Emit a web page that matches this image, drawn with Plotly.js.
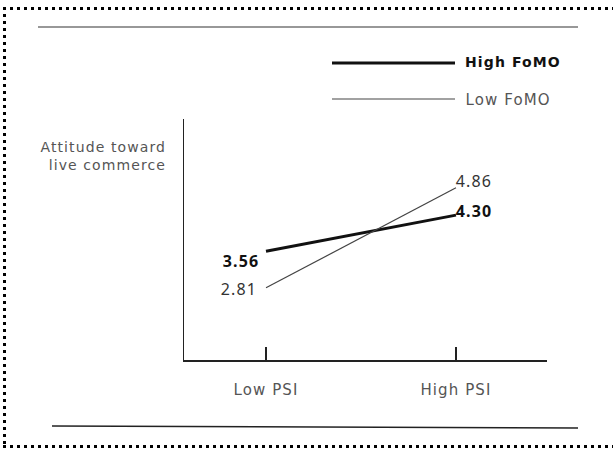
<!DOCTYPE html>
<html>
<head>
<meta charset="utf-8">
<script src="https://cdn.plot.ly/plotly-3.0.1.min.js"></script>
<style>
html,body{margin:0;padding:0;background:#fff;overflow:hidden;}
#wrap{position:relative;width:613px;height:450px;overflow:hidden;}
#chart{width:613px;height:450px;}
#chart .xtick text, #chart .annotation-text{letter-spacing:1.1px;}
.edge{position:absolute;pointer-events:none;z-index:5;}
.h{height:3px;left:3px;width:620px;background:repeating-linear-gradient(to right,#000 0 3px,transparent 3px 7px);}
.v{width:3px;left:3px;top:7px;height:441px;background:repeating-linear-gradient(to bottom,#000 0 3px,transparent 3px 7px);}
</style>
</head>
<body>
<div id="wrap">
<div id="chart"></div>
<div class="edge h" style="top:7px"></div>
<div class="edge h" style="top:445px"></div>
<div class="edge v"></div>
</div>
<script>
const categories = ['Low PSI', 'High PSI'];
const seriesNames = ['High FoMO', 'Low FoMO'];
const highFoMO = [3.56, 4.30];
const lowFoMO = [2.81, 4.86];
const yAxisTitle = 'Attitude toward<br>live commerce';

const W = 613, H = 450;
const L = 184, R = 66, T = 119, B = 90;
const pw = W - L - R, ph = H - T - B;
const px = v => (v - L) / pw;
const py = v => (H - B - v) / ph;

const labelFont = 'DejaVu Sans, sans-serif';
const numFont = 'Noto Sans, sans-serif';

const traces = [
  {x: [0, 1], y: highFoMO, name: seriesNames[0], mode: 'lines', line: {color: '#111', width: 3}, showlegend: false, hoverinfo: 'skip'},
  {x: [0, 1], y: lowFoMO, name: seriesNames[1], mode: 'lines', line: {color: '#444', width: 1.2}, showlegend: false, hoverinfo: 'skip'}
];

function fmt(v){ return v.toFixed(2); }

const annotations = [
  {xref: 'x', yref: 'y', x: 0, y: highFoMO[0], text: '<b>' + fmt(highFoMO[0]) + '</b>', showarrow: false, xanchor: 'right', xshift: -7, yshift: -10, font: {family: numFont, size: 16, color: '#111'}},
  {xref: 'x', yref: 'y', x: 0, y: lowFoMO[0], text: fmt(lowFoMO[0]), showarrow: false, xanchor: 'right', xshift: -9, yshift: -1, font: {family: numFont, size: 16, color: '#333'}},
  {xref: 'x', yref: 'y', x: 1, y: highFoMO[1], text: '<b>' + fmt(highFoMO[1]) + '</b>', showarrow: false, xanchor: 'left', xshift: 0, yshift: 4, font: {family: numFont, size: 16, color: '#111'}},
  {xref: 'x', yref: 'y', x: 1, y: lowFoMO[1], text: fmt(lowFoMO[1]), showarrow: false, xanchor: 'left', xshift: 0, yshift: 7, font: {family: numFont, size: 16, color: '#333'}},
  {xref: 'paper', yref: 'paper', x: px(168), y: py(156), text: yAxisTitle, showarrow: false, xanchor: 'right', yanchor: 'middle', align: 'right', font: {family: labelFont, size: 14, color: '#555'}},
  {xref: 'paper', yref: 'paper', x: px(468), y: py(62), text: '<b>' + seriesNames[0] + '</b>', showarrow: false, xanchor: 'left', yanchor: 'middle', font: {family: labelFont, size: 14, color: '#111'}},
  {xref: 'paper', yref: 'paper', x: px(468), y: py(100), text: seriesNames[1], showarrow: false, xanchor: 'left', yanchor: 'middle', font: {family: labelFont, size: 15, color: '#555'}}
];

const shapes = [
  {type: 'line', xref: 'paper', yref: 'paper', x0: px(38), x1: px(578), y0: py(27), y1: py(27), line: {color: '#333', width: 1.2}},
  {type: 'line', xref: 'paper', yref: 'paper', x0: px(52), x1: px(578), y0: py(426), y1: py(428), line: {color: '#222', width: 1.4}},
  {type: 'line', xref: 'paper', yref: 'paper', x0: px(332), x1: px(455), y0: py(63), y1: py(63), line: {color: '#111', width: 3}},
  {type: 'line', xref: 'paper', yref: 'paper', x0: px(332), x1: px(455), y0: py(99), y1: py(99), line: {color: '#444', width: 1.2}}
];

const layout = {
  width: W, height: H,
  margin: {l: L, r: R, t: T, b: B, pad: 0},
  paper_bgcolor: '#fff', plot_bgcolor: '#fff',
  showlegend: false,
  xaxis: {
    range: [-0.4316, 1.479], tickvals: [0, 1], ticktext: categories,
    showgrid: false, zeroline: false, showline: true, linecolor: '#222', linewidth: 1.5,
    ticks: 'inside', ticklen: 13, tickwidth: 1.2, tickcolor: '#222',
    tickfont: {family: labelFont, size: 15, color: '#555'}, ticklabelstandoff: 15
  },
  yaxis: {
    range: [1.33, 6.27], showgrid: false, zeroline: false, showline: true, linecolor: '#222', linewidth: 1.5,
    showticklabels: false, ticks: ''
  },
  annotations: annotations,
  shapes: shapes
};

Plotly.newPlot('chart', traces, layout, {staticPlot: true, displayModeBar: false});
</script>
</body>
</html>
